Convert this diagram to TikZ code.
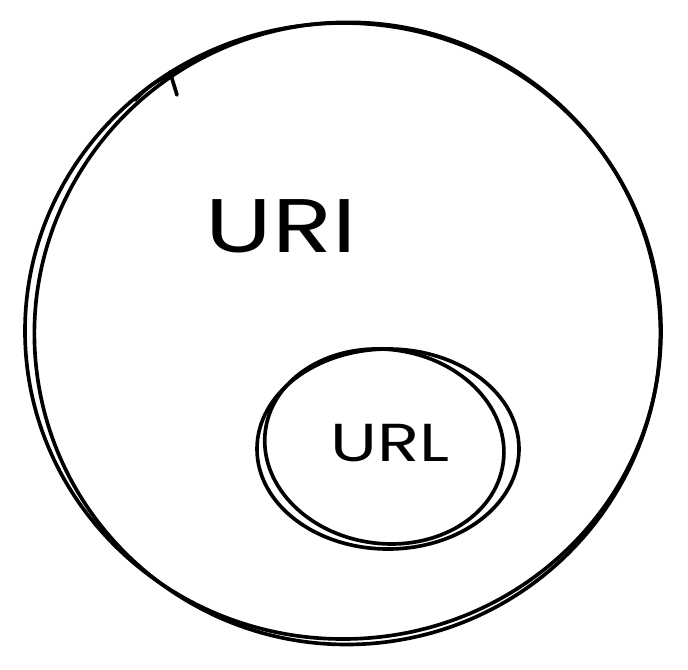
\documentclass[tikz,border=0pt]{standalone}
\usepackage{fontspec}
\setmainfont{Poppins}
\usetikzlibrary{positioning}

\tikzset{
  sketchline/.style={line width=2.6pt, black, line cap=round, line join=round},
  biglabel/.style={font=\fontsize{54}{54}\selectfont, xscale=1.3, transform shape},
  smalllabel/.style={font=\fontsize{38}{38}\selectfont, xscale=1.3, transform shape}
}

\begin{document}
\begin{tikzpicture}[x=0.025cm, y=-0.025cm]
\useasboundingbox (0,0) rectangle (688,669);

% outer circle, two rough strokes
\draw[sketchline] (343,331) ellipse [x radius=318, y radius=308];
\draw[sketchline, rotate around={8:(343,331)}] (347,334) ellipse [x radius=313, y radius=311];
\draw[sketchline] (135,100) .. controls (150,85) .. (178,70);
\draw[sketchline] (170,72) -- (177,95);

% inner circle
\draw[sketchline] (388,449) ellipse [x radius=131, y radius=100];
\draw[sketchline, rotate around={-8:(388,449)}] (384,447) ellipse [x radius=120, y radius=97];

\node[biglabel] (uri) at (281,226) {URI};
\node[smalllabel] (url) at (390,443) {URL};

\end{tikzpicture}
\end{document}
